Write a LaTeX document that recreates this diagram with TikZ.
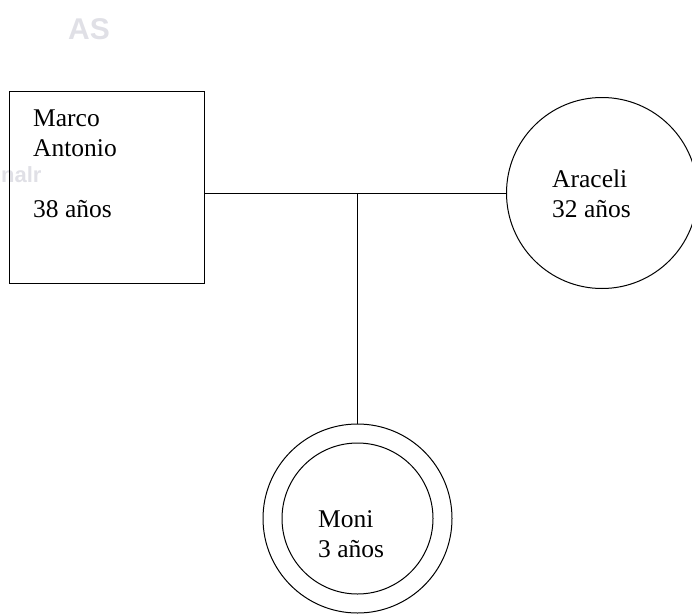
\documentclass[tikz,border=0pt]{standalone}
\usepackage{fontspec}
\setmainfont{Liberation Serif}
\newfontfamily\scanfont{Liberation Sans}

\begin{document}
\begin{tikzpicture}[x=1pt, y=-1pt,
malenode/.style={rectangle, draw=black, line width=1pt, minimum width=195pt, minimum height=192pt, inner sep=0pt},
femalenode/.style={circle, draw=black, line width=1pt, minimum size=#1, inner sep=0pt},
nametext/.style={align=left, anchor=north west, inner sep=0pt, font=\fontsize{25.5}{30}\selectfont},
ghosttext/.style={text=blue!12!gray!22, inner sep=0pt, font=\scanfont\bfseries\fontsize{30}{30}\selectfont},
]
\useasboundingbox (0,0) rectangle (692,613);

%Nodes
\node[ghosttext]                  (ghostA)     at (89,29)       {AS};
\node[ghosttext, anchor=west, font=\scanfont\bfseries\fontsize{22}{22}\selectfont] (ghostB) at (1,175) {nalr};
\node[malenode]                   (Marco)      at (106.5,187)   {};
\node[femalenode=191pt]           (Araceli)    at (602,193)     {};
\node[femalenode=189pt]           (Moni)       at (357.5,518.5) {};
\node[femalenode=151pt]           (MoniInner)  at (Moni.center) {};
\node[nametext]                   (MarcoText)  at (33,110)      {Marco\\Antonio\\[31pt]38 años};
\node[nametext]                   (AraceliText) at (552,170)    {Araceli\\32 años};
\node[nametext]                   (MoniText)   at (318,510)     {Moni\\3 años};

%Lines
\draw[line width=1pt] (Marco.east |- Araceli.west) -- (Araceli.west);
\draw[line width=1pt] (Moni.north |- Araceli.west) -- (Moni.north);

\end{tikzpicture}
\end{document}
